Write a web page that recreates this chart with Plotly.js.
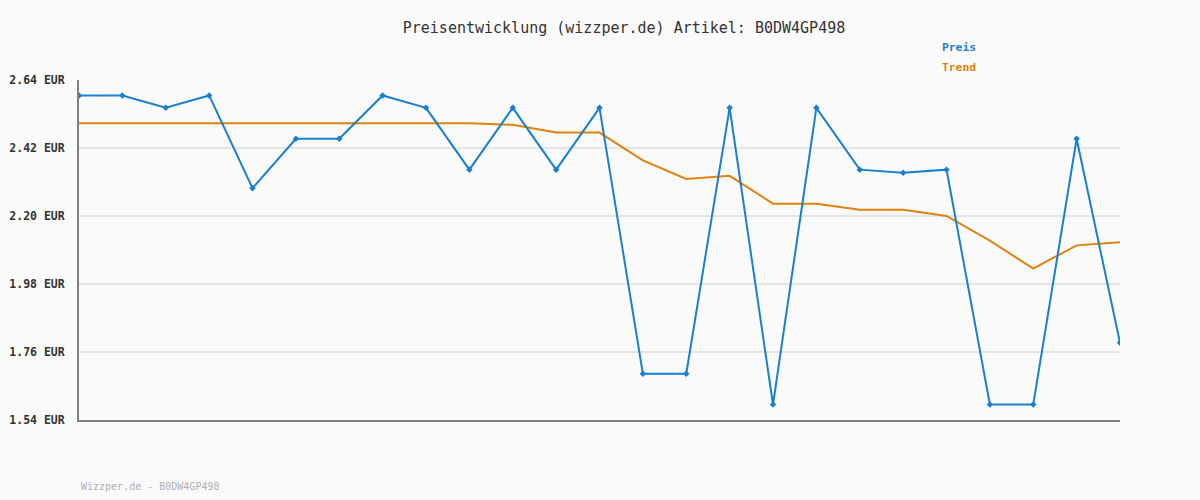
<!DOCTYPE html>
<html>
<head>
<meta charset="utf-8">
<script src="https://cdn.plot.ly/plotly-3.0.1.min.js"></script>
<style>
html,body{margin:0;padding:0;background:#fafafa;}
#chart{width:1200px;height:500px;}
</style>
</head>
<body>
<div id="chart"></div>
<script>
const article = "B0DW4GP498";
const idx = [0,1,2,3,4,5,6,7,8,9,10,11,12,13,14,15,16,17,18,19,20,21,22,23,24];
const preis = [2.59,2.59,2.55,2.59,2.29,2.45,2.45,2.59,2.55,2.35,2.55,2.35,2.55,1.69,1.69,2.55,1.59,2.55,2.35,2.34,2.35,1.59,1.59,2.45,1.79];
const trend = [2.50,2.50,2.50,2.50,2.50,2.50,2.50,2.50,2.50,2.50,2.495,2.47,2.47,2.38,2.32,2.33,2.24,2.24,2.22,2.22,2.20,2.12,2.03,2.105,2.115];
const yTicks = [1.54,1.76,1.98,2.20,2.42,2.64];
const yTickLabels = ["1.54 EUR","1.76 EUR","1.98 EUR","2.20 EUR","2.42 EUR","2.64 EUR"];

const mono = "DejaVu Sans Mono, monospace";
const blue = "#1a7fcf";
const orange = "#e0820f";

const traces = [
  {x: idx, y: trend, type: "scatter", mode: "lines", name: "Trend",
   line: {color: orange, width: 2}, hoverinfo: "skip"},
  {x: idx, y: preis, type: "scatter", mode: "lines+markers", name: "Preis",
   line: {color: blue, width: 2},
   marker: {color: blue, size: 5, symbol: "diamond"}}
];

const layout = {
  width: 1200, height: 500,
  paper_bgcolor: "#fafafa", plot_bgcolor: "#fafafa",
  margin: {l: 79, r: 80, t: 80, b: 80},
  showlegend: false,
  title: {text: "Preisentwicklung (wizzper.de) Artikel: " + article,
          font: {family: mono, size: 15, color: "#333"},
          x: 0.52, xanchor: "center", y: 0.944, yanchor: "middle"},
  xaxis: {range: [0, 24], showgrid: false, zeroline: false, showticklabels: false,
          ticks: "", showline: true, linecolor: "#808080", linewidth: 2, fixedrange: true},
  yaxis: {range: [1.54, 2.64], tickmode: "array", tickvals: yTicks, ticktext: yTickLabels,
          showgrid: true, gridcolor: "#e4e4e4", gridwidth: 2, zeroline: false,
          showline: true, linecolor: "#808080", linewidth: 2, ticks: "",
          ticklabelstandoff: 10,
          tickfont: {family: mono, size: 11.5, color: "#333", weight: "bold"}},
  annotations: [
    {text: "<b>Preis</b>", xref: "paper", yref: "paper", x: 0.827, y: 1.097,
     xanchor: "left", yanchor: "middle", showarrow: false,
     font: {family: mono, size: 11.3, color: blue}},
    {text: "<b>Trend</b>", xref: "paper", yref: "paper", x: 0.827, y: 1.038,
     xanchor: "left", yanchor: "middle", showarrow: false,
     font: {family: mono, size: 11.3, color: orange}},
    {text: "Wizzper.de - " + article, xref: "paper", yref: "paper", x: 0, y: -0.197,
     xanchor: "left", yanchor: "middle", showarrow: false,
     font: {family: mono, size: 10, color: "#b0b0b0"}}
  ]
};

Plotly.newPlot("chart", traces, layout, {displayModeBar: false, staticPlot: true});
</script>
</body>
</html>
